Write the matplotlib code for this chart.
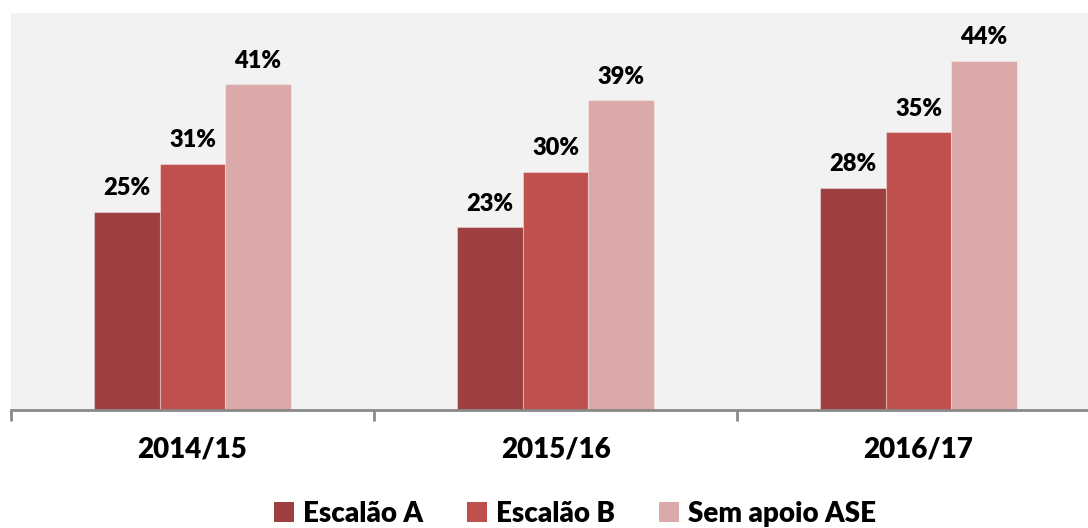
import matplotlib
matplotlib.use("Agg")
import matplotlib.pyplot as plt
from matplotlib.patches import Patch
import numpy as np

plt.rcParams['font.family'] = ['Lato', 'DejaVu Sans']

categories = ["2014/15", "2015/16", "2016/17"]
series_names = ["Escalão A", "Escalão B", "Sem apoio ASE"]
escalao_a = [25, 23, 28]
escalao_b = [31, 30, 35]
sem_apoio = [41, 39, 44]
colors = ["#9e3f3f", "#c0504d", "#dba9aa"]

W, H = 1088, 528
fig = plt.figure(figsize=(W / 100, H / 100), dpi=100)
left, right, top, bottom = 11, 1100, 13, 410
ax = fig.add_axes([left / W, 1 - bottom / H, (right - left) / W, (bottom - top) / H])
ax.set_facecolor("#f2f2f2")

x = np.arange(len(categories))
bw = 0.18
for i, (vals, col) in enumerate(zip([escalao_a, escalao_b, sem_apoio], colors)):
    pos = x + (i - 1) * bw
    ax.bar(pos, vals, width=bw, color=col, edgecolor=(1, 1, 1, 0.35), linewidth=0.8, zorder=2)
    for p, v in zip(pos, vals):
        ax.annotate(f"{v}%", (p, v), xytext=(0, 9), textcoords="offset points",
                    ha="center", va="bottom", fontsize=17, fontweight="heavy", color="black")

ax.set_xlim(-0.5, len(categories) - 0.5)
ax.set_ylim(0, 50)
ax.set_yticks([])
for s in ["top", "right", "left"]:
    ax.spines[s].set_visible(False)
ax.spines["bottom"].set_color("#898989")
ax.spines["bottom"].set_linewidth(2)

ax.set_xticks(np.arange(len(categories) + 1) - 0.5)
ax.set_xticklabels([])
ax.tick_params(axis="x", length=8, width=2, color="#898989", direction="out")
for xi, c in zip(x, categories):
    ax.text(xi, -0.1, c, transform=ax.get_xaxis_transform(), ha="center", va="center",
            fontsize=20, fontweight="heavy", color="black")

handles = [Patch(facecolor=c, edgecolor="none") for c in colors]
fig.legend(handles, series_names, loc="center", bbox_to_anchor=(575 / W, 1 - 514 / H),
           ncol=3, frameon=False, prop={"size": 20, "weight": "heavy"},
           handlelength=0.72, handleheight=0.72, handletextpad=0.3, columnspacing=1.6)

fig.savefig("out.png", dpi=100)
